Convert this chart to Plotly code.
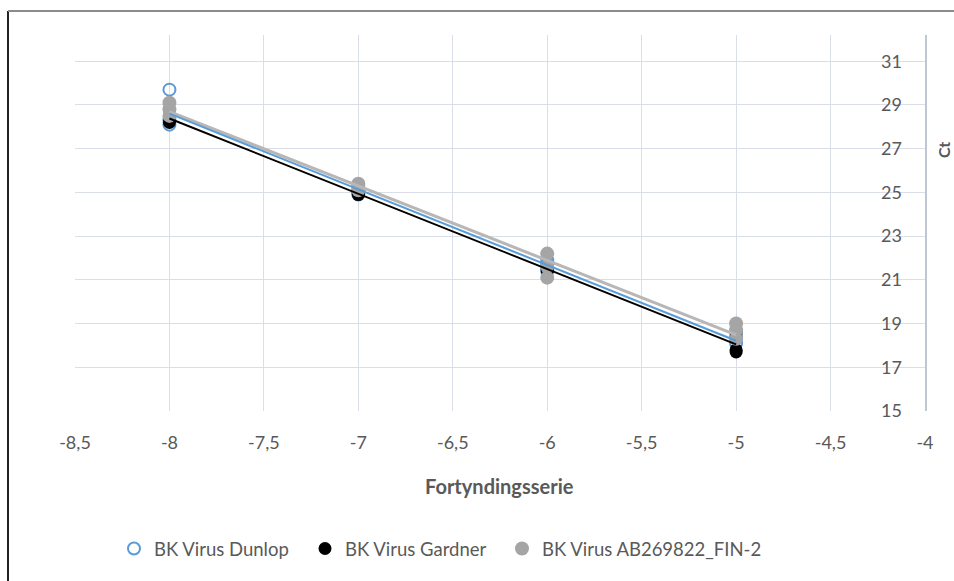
import numpy as np
import plotly.graph_objects as go

# Data
dilution = [-8, -8, -8, -7, -7, -7, -6, -6, -6, -5, -5, -5]
ct_dunlop = [29.7, 28.1, 28.3, 24.9, 25.0, 25.1, 21.4, 21.7, 21.9, 18.1, 18.3, 18.4]
ct_gardner = [28.2, 28.4, 28.5, 24.9, 25.0, 24.95, 21.5, 21.6, 21.4, 17.7, 17.8, 18.6]
ct_fin2 = [28.5, 28.8, 29.1, 25.1, 25.3, 25.4, 21.1, 21.6, 22.2, 18.3, 18.7, 19.0]
series_names = ["BK Virus Dunlop", "BK Virus Gardner", "BK Virus AB269822_FIN-2"]

x_tickvals = [-8.5, -8, -7.5, -7, -6.5, -6, -5.5, -5, -4.5, -4]
x_ticktext = ["-8,5", "-8", "-7,5", "-7", "-6,5", "-6", "-5,5", "-5", "-4,5", "-4"]
y_tickvals = [15, 17, 19, 21, 23, 25, 27, 29, 31]

BLUE = "#5B9BD5"
GREY = "#A5A5A5"
TXT = "#595959"
FONT = "Lato"

fig = go.Figure()

fig.add_trace(go.Scatter(x=dilution, y=ct_dunlop, mode="markers", name=series_names[0], legend="legend",
                         marker=dict(symbol="circle-open", size=12, color=BLUE, line=dict(width=2, color=BLUE))))
fig.add_trace(go.Scatter(x=dilution, y=ct_gardner, mode="markers", name=series_names[1], legend="legend2",
                         marker=dict(symbol="circle", size=13, color="black")))
fig.add_trace(go.Scatter(x=dilution, y=ct_fin2, mode="markers", name=series_names[2], legend="legend3",
                         marker=dict(symbol="circle", size=14, color=GREY)))

# linear trendlines
for ys, col, w in [(ct_fin2, "#B7B7B7", 3), (ct_dunlop, BLUE, 2), (ct_gardner, "black", 2)]:
    k, b = np.polyfit(dilution, ys, 1)
    xs = np.array([min(dilution), max(dilution)])
    fig.add_trace(go.Scatter(x=xs, y=k * xs + b, mode="lines", showlegend=False,
                             line=dict(color=col, width=w), hoverinfo="skip"))

W, H = 954, 581
L, T = 75, 35
pw, ph = 850, 376
R, B = W - L - pw, H - T - ph


def px_x(p):  # window px -> paper x
    return (p - L) / pw


def px_y(p):  # window px -> paper y
    return (T + ph - p) / ph


def leg(xpx):
    return dict(orientation="h", x=px_x(xpx), xanchor="left", y=px_y(549), yanchor="middle",
                font=dict(size=18.5, color=TXT), itemwidth=30, bgcolor="rgba(0,0,0,0)")


fig.update_layout(
    width=W, height=H,
    margin=dict(l=L, r=R, t=T, b=B, autoexpand=False),
    plot_bgcolor="white", paper_bgcolor="white",
    font=dict(family=FONT, color=TXT, size=17),
    showlegend=True,
    legend=leg(114), legend2=leg(305), legend3=leg(502),
    xaxis=dict(range=[-8.5, -4], tickvals=x_tickvals, ticktext=x_ticktext,
               showgrid=True, gridcolor="#D9DEE8", gridwidth=1, zeroline=False,
               showline=False, ticks="outside", ticklen=15, tickcolor="rgba(0,0,0,0)",
               tickfont=dict(size=18, color=TXT), ticklabeloverflow="allow"),
    yaxis=dict(range=[15, 32.2], tickvals=y_tickvals, side="right",
               ticklabelposition="inside", ticks="inside", ticklen=24, tickcolor="rgba(0,0,0,0)",
               showgrid=True, gridcolor="#D9DEE8", gridwidth=1, zeroline=False,
               showline=True, linecolor="#BFC7D5", linewidth=1.5,
               tickfont=dict(size=18, color=TXT), ticklabeloverflow="allow"),
    annotations=[
        dict(text="<b>Fortyndingsserie</b>", xref="paper", yref="paper", x=px_x(499), y=px_y(486),
             xanchor="center", yanchor="middle", showarrow=False, font=dict(size=20, color=TXT)),
        dict(text="<b>Ct</b>", xref="paper", yref="paper", x=px_x(943), y=px_y(150),
             xanchor="center", yanchor="middle", textangle=-90, showarrow=False,
             font=dict(size=16, color=TXT)),
    ],
    shapes=[
        dict(type="line", xref="paper", yref="paper", x0=px_x(8), x1=px_x(8), y0=px_y(11), y1=px_y(600),
             line=dict(color="#222222", width=2)),
        dict(type="line", xref="paper", yref="paper", x0=px_x(8), x1=px_x(970), y0=px_y(11), y1=px_y(11),
             line=dict(color="#8C8C8C", width=2)),
    ],
)

fig.write_html("out.html", config={"displayModeBar": False},
               post_script="document.body.style.margin='0';document.body.style.overflow='hidden';")
